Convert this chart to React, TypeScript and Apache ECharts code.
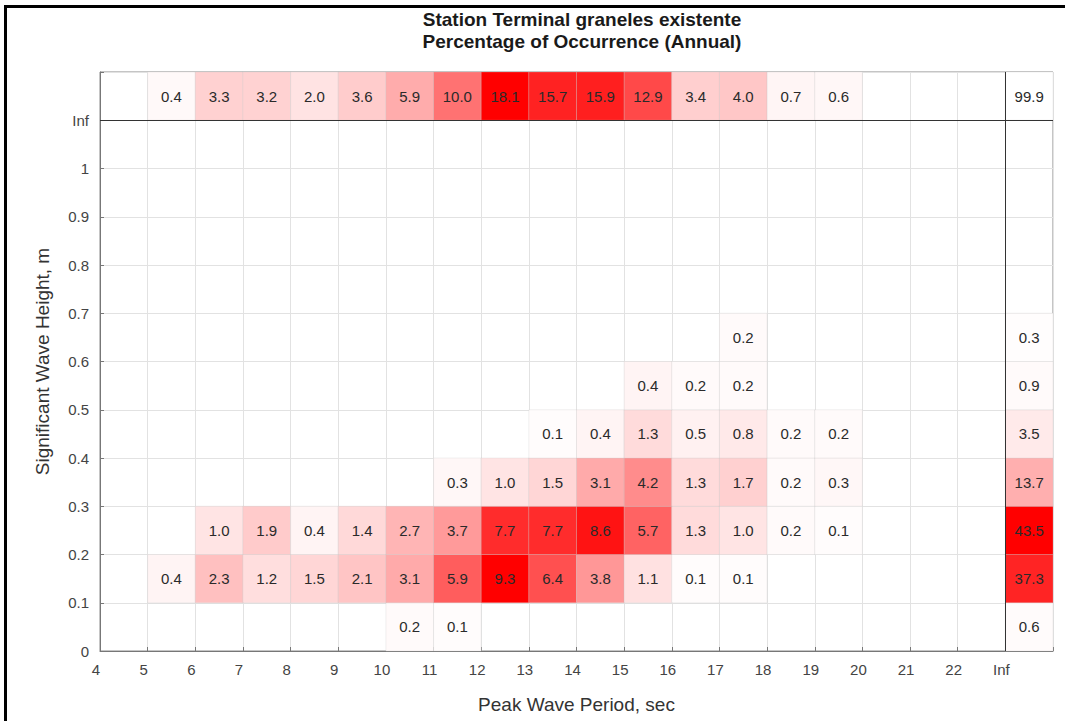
import React, { useEffect, useRef } from "react";
import * as echarts from "echarts";

// Period bins (lower edges, sec): 4-5 ... 22-23
const periodEdges = [4, 5, 6, 7, 8, 9, 10, 11, 12, 13, 14, 15, 16, 17, 18, 19, 20, 21, 22];
// Height bins (lower edges, m)
const heightEdges = [0, 0.1, 0.2, 0.3, 0.4, 0.5, 0.6, 0.7, 0.8, 0.9];

// Percentage of occurrence per height row (index = period bin)
const row00 = [null, null, null, null, null, null, 0.2, 0.1, null, null, null, null, null, null, null, null, null, null, null];
const row01 = [null, 0.4, 2.3, 1.2, 1.5, 2.1, 3.1, 5.9, 9.3, 6.4, 3.8, 1.1, 0.1, 0.1, null, null, null, null, null];
const row02 = [null, null, 1.0, 1.9, 0.4, 1.4, 2.7, 3.7, 7.7, 7.7, 8.6, 5.7, 1.3, 1.0, 0.2, 0.1, null, null, null];
const row03 = [null, null, null, null, null, null, null, 0.3, 1.0, 1.5, 3.1, 4.2, 1.3, 1.7, 0.2, 0.3, null, null, null];
const row04 = [null, null, null, null, null, null, null, null, null, 0.1, 0.4, 1.3, 0.5, 0.8, 0.2, 0.2, null, null, null];
const row05 = [null, null, null, null, null, null, null, null, null, null, null, 0.4, 0.2, 0.2, null, null, null, null, null];
const row06 = [null, null, null, null, null, null, null, null, null, null, null, null, null, 0.2, null, null, null, null, null];
const row07 = [null, null, null, null, null, null, null, null, null, null, null, null, null, null, null, null, null, null, null];
const row08 = row07;
const row09 = row07;
const rows = [row00, row01, row02, row03, row04, row05, row06, row07, row08, row09];

// Totals per period bin (top "Inf" row)
const periodTotals = [null, 0.4, 3.3, 3.2, 2.0, 3.6, 5.9, 10.0, 18.1, 15.7, 15.9, 12.9, 3.4, 4.0, 0.7, 0.6, null, null, null];
// Totals per height bin (right "Inf" column)
const heightTotals = [0.6, 37.3, 43.5, 13.7, 3.5, 0.9, 0.3, null, null, null];
const grandTotal = 99.9;

const xTickLabels: Record<number, string> = { 23: "Inf", 24: "" };
const yTickLabels: Record<number, string> = { 11: "Inf", 12: "" };

const FONT = '"Liberation Sans", Arial, Helvetica, sans-serif';

export default function App() {
  const ref = useRef<HTMLDivElement>(null);

  useEffect(() => {
    if (!ref.current) return;
    document.body.style.margin = "0";
    const chart = echarts.init(ref.current, null, { renderer: "svg" });

    // data: [x0, y0, value, group]
    const data: number[][] = [];
    rows.forEach((r, i) => {
      r.forEach((v, j) => {
        if (v != null) data.push([periodEdges[j], heightEdges[i], v, 0]);
      });
    });
    periodTotals.forEach((v, j) => {
      if (v != null) data.push([periodEdges[j], 1.1, v, 1]);
    });
    heightTotals.forEach((v, i) => {
      if (v != null) data.push([23, heightEdges[i], v, 2]);
    });
    data.push([23, 1.1, grandTotal, 3]);

    const maxOf = (a: (number | null)[]) => Math.max(...(a.filter((x) => x != null) as number[]));
    const groupMax = [
      Math.max(...rows.map((r) => (r.some((x) => x != null) ? maxOf(r) : 0))),
      maxOf(periodTotals),
      maxOf(heightTotals),
      0,
    ];

    chart.setOption({
      animation: false,
      backgroundColor: "#ffffff",
      title: {
        text: "Station Terminal graneles existente\nPercentage of Occurrence (Annual)",
        left: 577,
        top: 3,
        textAlign: "center",
        textStyle: { fontFamily: FONT, fontSize: 19, fontWeight: "bold", color: "#1a1a1a", lineHeight: 22 },
      },
      grid: {
        left: 100,
        right: 12,
        top: 72,
        bottom: 70,
        show: true,
        borderColor: "#8a8a8a",
        borderWidth: 1,
        backgroundColor: "transparent",
      },
      xAxis: {
        type: "value",
        min: 4,
        max: 24,
        interval: 1,
        name: "Peak Wave Period, sec",
        nameLocation: "middle",
        nameGap: 44,
        nameTextStyle: { fontFamily: FONT, fontSize: 19, color: "#333" },
        axisLine: { show: true, lineStyle: { color: "#777" } },
        axisTick: { show: true, inside: true, length: 4, lineStyle: { color: "#777" } },
        splitLine: { show: true, lineStyle: { color: "#e2e2e2" } },
        axisLabel: {
          fontFamily: FONT,
          fontSize: 15,
          color: "#444",
          margin: 11,
          padding: [0, 8, 0, 0],
          formatter: (v: number) => (xTickLabels[v] !== undefined ? xTickLabels[v] : String(v)),
        },
      },
      yAxis: {
        type: "value",
        min: 0,
        max: 1.2,
        interval: 0.1,
        name: "Significant Wave Height, m",
        nameLocation: "middle",
        nameGap: 48,
        nameTextStyle: { fontFamily: FONT, fontSize: 19, color: "#333" },
        axisLine: { show: true, lineStyle: { color: "#777" } },
        axisTick: { show: true, inside: true, length: 4, lineStyle: { color: "#777" } },
        splitLine: { show: true, lineStyle: { color: "#e2e2e2" } },
        axisLabel: {
          fontFamily: FONT,
          fontSize: 15,
          color: "#444",
          margin: 11,
          formatter: (v: number) => {
            const k = Math.round(v * 10);
            if (yTickLabels[k] !== undefined) return yTickLabels[k];
            return String(k / 10);
          },
        },
      },
      series: [
        {
          type: "custom",
          coordinateSystem: "cartesian2d",
          data,
          encode: { x: 0, y: 1 },
          renderItem: (params: any, api: any) => {
            const x0 = api.value(0);
            const y0 = api.value(1);
            const v = api.value(2);
            const g = api.value(3);
            const p1 = api.coord([x0, y0 + 0.1]);
            const p2 = api.coord([x0 + 1, y0]);
            const mx = groupMax[g];
            const t = mx ? Math.min(1, v / mx) : 0;
            const c = Math.round(255 * (1 - t));
            return {
              type: "group",
              children: [
                {
                  type: "rect",
                  shape: { x: p1[0], y: p1[1], width: p2[0] - p1[0], height: p2[1] - p1[1] },
                  style: { fill: `rgb(255,${c},${c})`, stroke: "rgba(200,200,200,0.25)", lineWidth: 1 },
                },
                {
                  type: "text",
                  style: {
                    text: v.toFixed(1),
                    x: (p1[0] + p2[0]) / 2,
                    y: (p1[1] + p2[1]) / 2,
                    align: "center",
                    verticalAlign: "middle",
                    fill: "#2a2a2a",
                    font: `15px ${FONT}`,
                  },
                },
              ],
            };
          },
          markLine: {
            silent: true,
            symbol: "none",
            label: { show: false },
            lineStyle: { color: "#333", width: 1, type: "solid" },
            data: [{ xAxis: 23 }, { yAxis: 1.1 }],
          },
        },
      ],
      graphic: [
        {
          type: "polyline",
          shape: { points: [[5.5, 900], [5.5, 6.5], [1200, 6.5]] },
          style: { fill: "none", stroke: "#000", lineWidth: 3 },
          silent: true,
          z: 100,
        },
      ],
    });

    return () => chart.dispose();
  }, []);

  return (
    <div
      ref={ref}
      style={{ position: "fixed", left: 0, top: 0, width: 1065, height: 721, background: "#fff" }}
    />
  );
}
